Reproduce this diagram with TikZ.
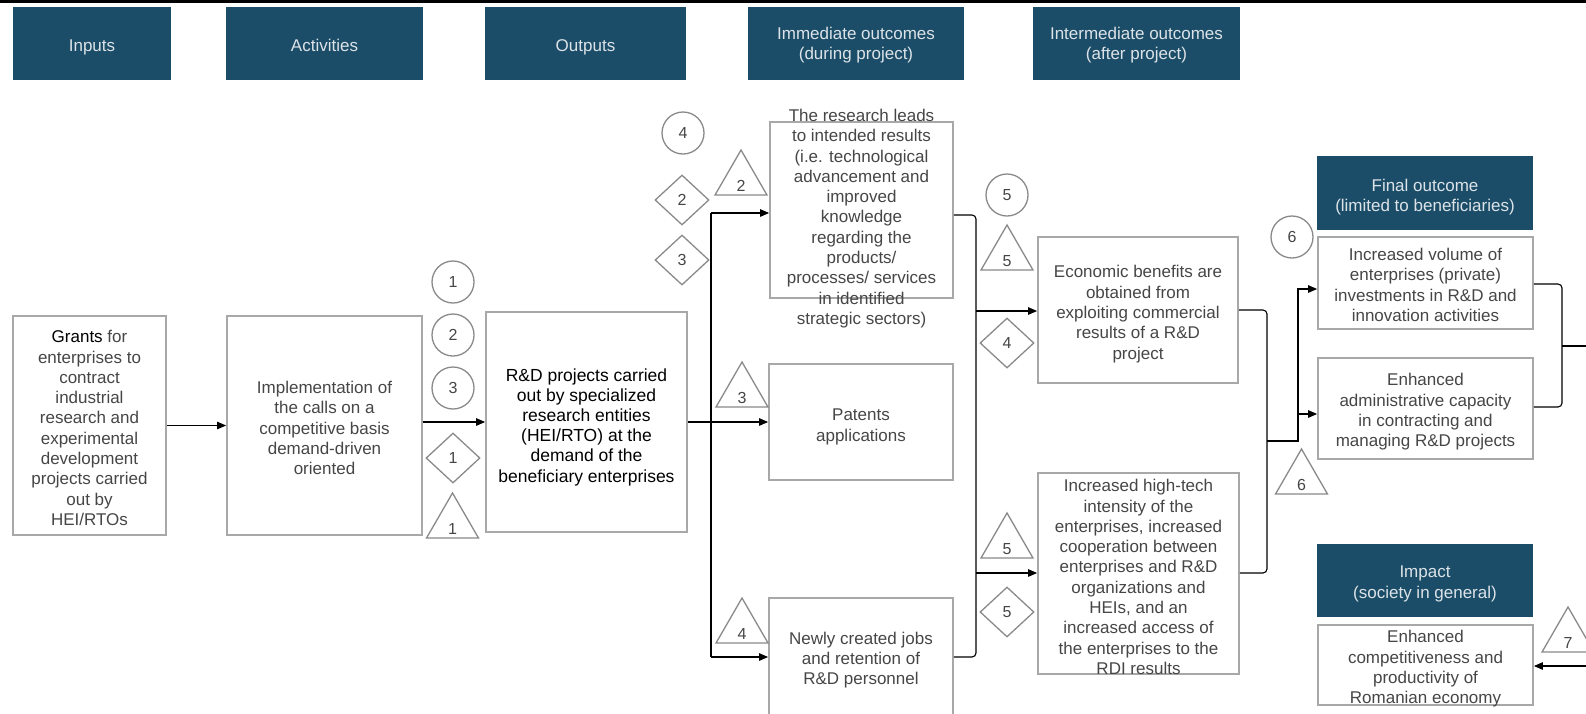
\documentclass[tikz,border=0pt]{standalone}
\usepackage{fontspec}
\setmainfont{Liberation Sans}
\usetikzlibrary{arrows.meta,shapes.geometric}

\definecolor{hdr}{HTML}{1C4D68}
\definecolor{hdrtxt}{HTML}{DCE3E8}
\definecolor{boxline}{HTML}{A8A8A8}
\definecolor{bodytxt}{HTML}{464646}
\definecolor{mkline}{HTML}{8A8A8A}

\tikzset{
  bodyfont/.style={font=\fontsize{17}{20.3}\selectfont},
  header/.style={fill=hdr, draw=none, text=hdrtxt, align=center, inner sep=0pt, bodyfont},
  oneline/.style={text height=15pt, text depth=0pt},
  hdrtxt/.style={align=center, inner sep=0pt, text=hdrtxt, bodyfont},
  box/.style={draw=boxline, line width=1.8pt, fill=white, inner sep=0pt},
  txt/.style={align=center, inner sep=0pt, text=bodytxt, bodyfont},
  marker/.style={draw=mkline, line width=1.3pt, inner sep=0pt, text=bodytxt, font=\fontsize{16}{16}\selectfont},
  circ/.style={marker, circle, minimum size=42pt},
  diam/.style={marker, diamond, minimum width=54pt, minimum height=50pt},
  tri/.style={marker, regular polygon, regular polygon sides=3, minimum size=60pt,
    label={[text=bodytxt, font=\fontsize{16}{16}\selectfont, yshift=-6pt]center:#1}},
  link/.style={draw=black, line width=1.1pt},
  arr/.style={link, -{Triangle[length=9pt,width=7.5pt]}},
}

\begin{document}
\begin{tikzpicture}[x=1pt,y=-1pt]
\useasboundingbox (0,0) rectangle (1586,713);
\fill[white] (0,0) rectangle (1586,713);
% rule along the top edge
\fill[black] (0,0) rectangle (1586,3);

% column headers
\node[header, oneline, minimum width=158pt, minimum height=73pt] (hIn)  at (92,43.5)    {Inputs};
\node[header, oneline, minimum width=197pt, minimum height=73pt] (hAct) at (324.5,43.5) {Activities};
\node[header, oneline, minimum width=201pt, minimum height=73pt] (hOut) at (585.5,43.5) {Outputs};
\node[header, minimum width=216pt, minimum height=73pt] (hImm)   at (856,43.5)    {};
\node[header, minimum width=207pt, minimum height=73pt] (hInter) at (1136.5,43.5) {};
\node[header, minimum width=216pt, minimum height=74pt] (hFin)   at (1425,193)    {};
\node[header, minimum width=216pt, minimum height=73pt] (hImp)   at (1425,580.5)  {};
\node[hdrtxt, yshift=-1.5pt] (hImmT)   at (hImm)   {Immediate outcomes\\(during project)};
\node[hdrtxt, yshift=-1.5pt] (hInterT) at (hInter) {Intermediate outcomes\\(after project)};
\node[hdrtxt, yshift=-4pt]   (hFinT)   at (hFin)   {Final outcome\\(limited to beneficiaries)};
\node[hdrtxt, yshift=-3.5pt] (hImpT)   at (hImp)   {Impact\\(society in general)};

% boxes of the chain
\node[box, minimum width=153pt, minimum height=219pt] (grants)   at (89.5,425.5) {};
\node[box, minimum width=195pt, minimum height=219pt] (impl)     at (324.5,425.5) {};
\node[box, minimum width=201pt, minimum height=220pt] (rnd)      at (586.5,422) {};
\node[box, minimum width=183pt, minimum height=176pt] (research) at (861.5,210) {};
\node[box, minimum width=184pt, minimum height=116pt] (patents)  at (861,422) {};
\node[box, minimum width=184pt, minimum height=140pt] (jobs)     at (861,668) {};
\node[box, minimum width=200pt, minimum height=146pt] (econ)     at (1138,310) {};
\node[box, minimum width=201pt, minimum height=201pt] (hightech) at (1138.5,573.5) {};
\node[box, minimum width=215pt, minimum height=92pt]  (invest)   at (1425.5,283) {};
\node[box, minimum width=215pt, minimum height=101pt] (admin)    at (1425.5,408.5) {};
\node[box, minimum width=215pt, minimum height=80pt]  (compet)   at (1425.5,665) {};

% box texts
\node[txt, yshift=-2.5pt] (grantsT) at (grants)
  {\textcolor{black}{Grants} for\\enterprises to\\contract\\industrial\\research and\\experimental\\development\\projects carried\\out by\\HEI/RTOs};
\node[txt, yshift=-2.5pt] (implT) at (impl)
  {Implementation of\\the calls on a\\competitive basis\\demand-driven\\oriented};
\node[txt, yshift=-5pt, text=black, font=\fontsize{17.5}{20.2}\selectfont] (rndT) at (rnd)
  {R\&D projects carried\\out by specialized\\research entities\\(HEI/RTO) at the\\demand of the\\beneficiary enterprises};
\node[txt] (researchT) at (861.5,218.5)
  {The research leads\\to intended results\\(i.e. technological\\advancement and\\improved\\knowledge\\regarding the\\products/\\processes/ services\\in identified\\strategic sectors)};
\node[txt, yshift=-5pt] (patentsT) at (patents) {Patents\\applications};
\node[txt] (jobsT) at (861,660) {Newly created jobs\\and retention of\\R\&D personnel};
\node[txt, yshift=-4pt] (econT) at (econ)
  {Economic benefits are\\obtained from\\exploiting commercial\\results of a R\&D\\project};
\node[txt] (hightechT) at (1138.5,577)
  {Increased high-tech\\intensity of the\\enterprises, increased\\cooperation between\\enterprises and R\&D\\organizations and\\HEIs, and an\\increased access of\\the enterprises to the\\RDI results};
\node[txt, yshift=-2pt] (investT) at (invest)
  {Increased volume of\\enterprises (private)\\investments in R\&D and\\innovation activities};
\node[txt, yshift=-3.5pt] (adminT) at (admin)
  {Enhanced\\administrative capacity\\in contracting and\\managing R\&D projects};
\node[txt, yshift=-4pt] (competT) at (compet)
  {Enhanced\\competitiveness and\\productivity of\\Romanian economy};

% numbered markers
\node[circ] (c1) at (453,282) {1};
\node[circ] (c2) at (453,335) {2};
\node[circ] (c3) at (453,388) {3};
\node[circ] (c4) at (683,133) {4};
\node[circ] (c5) at (1007,195) {5};
\node[circ] (c6) at (1292,237) {6};

\node[diam] (d1) at (453,458) {1};
\node[diam] (d2) at (682,200) {2};
\node[diam] (d3) at (682,260) {3};
\node[diam] (d4) at (1007,343) {4};
\node[diam] (d5) at (1007,612) {5};

\node[tri=1] (t1) at (452.5,523) {};
\node[tri=2] (t2) at (741,180) {};
\node[tri=3] (t3) at (742,392) {};
\node[tri=4] (t4) at (742,628) {};
\node[tri=5] (t5a) at (1007,255) {};
\node[tri=5] (t5b) at (1007,543) {};
\node[tri=6] (t6) at (1301.5,479) {};
\node[tri=7] (t7) at (1568,637) {};

% connectors
\draw[arr] (grants) -- (impl);
\draw[arr] (impl.east |- rnd.west) -- (rnd.west);
\draw[arr] (rnd.east) -- (patents.west);

\coordinate (vtop) at (711,213);
\coordinate (vbot) at (711,657);
\draw[link] (vtop) -- (vbot);
\draw[arr] (vtop) -- (vtop -| research.west);
\draw[arr] (vbot) -- (vbot -| jobs.west);

\coordinate (bA) at (976,215);
\coordinate (bAb) at (976,657);
\coordinate (bAe) at (976,311);
\coordinate (bAh) at (976,573);
\draw[link, rounded corners=4pt] (bA -| research.east) -- (bA) -- (bAb) -- (bAb -| jobs.east);
\draw[arr] (bAe) -- (bAe -| econ.west);
\draw[arr] (bAh) -- (bAh -| hightech.west);

\coordinate (bB) at (1267,310);
\coordinate (bBb) at (1267,573);
\coordinate (bBm) at (1267,441);
\coordinate (fork) at (1298,441);
\coordinate (forkTop) at (1298,289);
\coordinate (forkMid) at (1298,414);
\draw[link, rounded corners=4pt] (bB -| econ.east) -- (bB) -- (bBb) -- (bBb -| hightech.east);
\draw[arr] (bBm) -- (fork) -- (forkTop) -- (forkTop -| invest.west);
\draw[arr] (forkMid) -- (forkMid -| admin.west);

\coordinate (bC) at (1562,284);
\coordinate (bCb) at (1562,407);
\coordinate (bCm) at (1562,346);
\coordinate (exitR) at (1592,346);
\coordinate (entryR) at (1592,666);
\draw[link, rounded corners=4pt] (bC -| invest.east) -- (bC) -- (bCb) -- (bCb -| admin.east);
\draw[link] (bCm) -- (exitR);
\draw[arr] (entryR) -- (entryR -| compet.east);
\end{tikzpicture}
\end{document}
